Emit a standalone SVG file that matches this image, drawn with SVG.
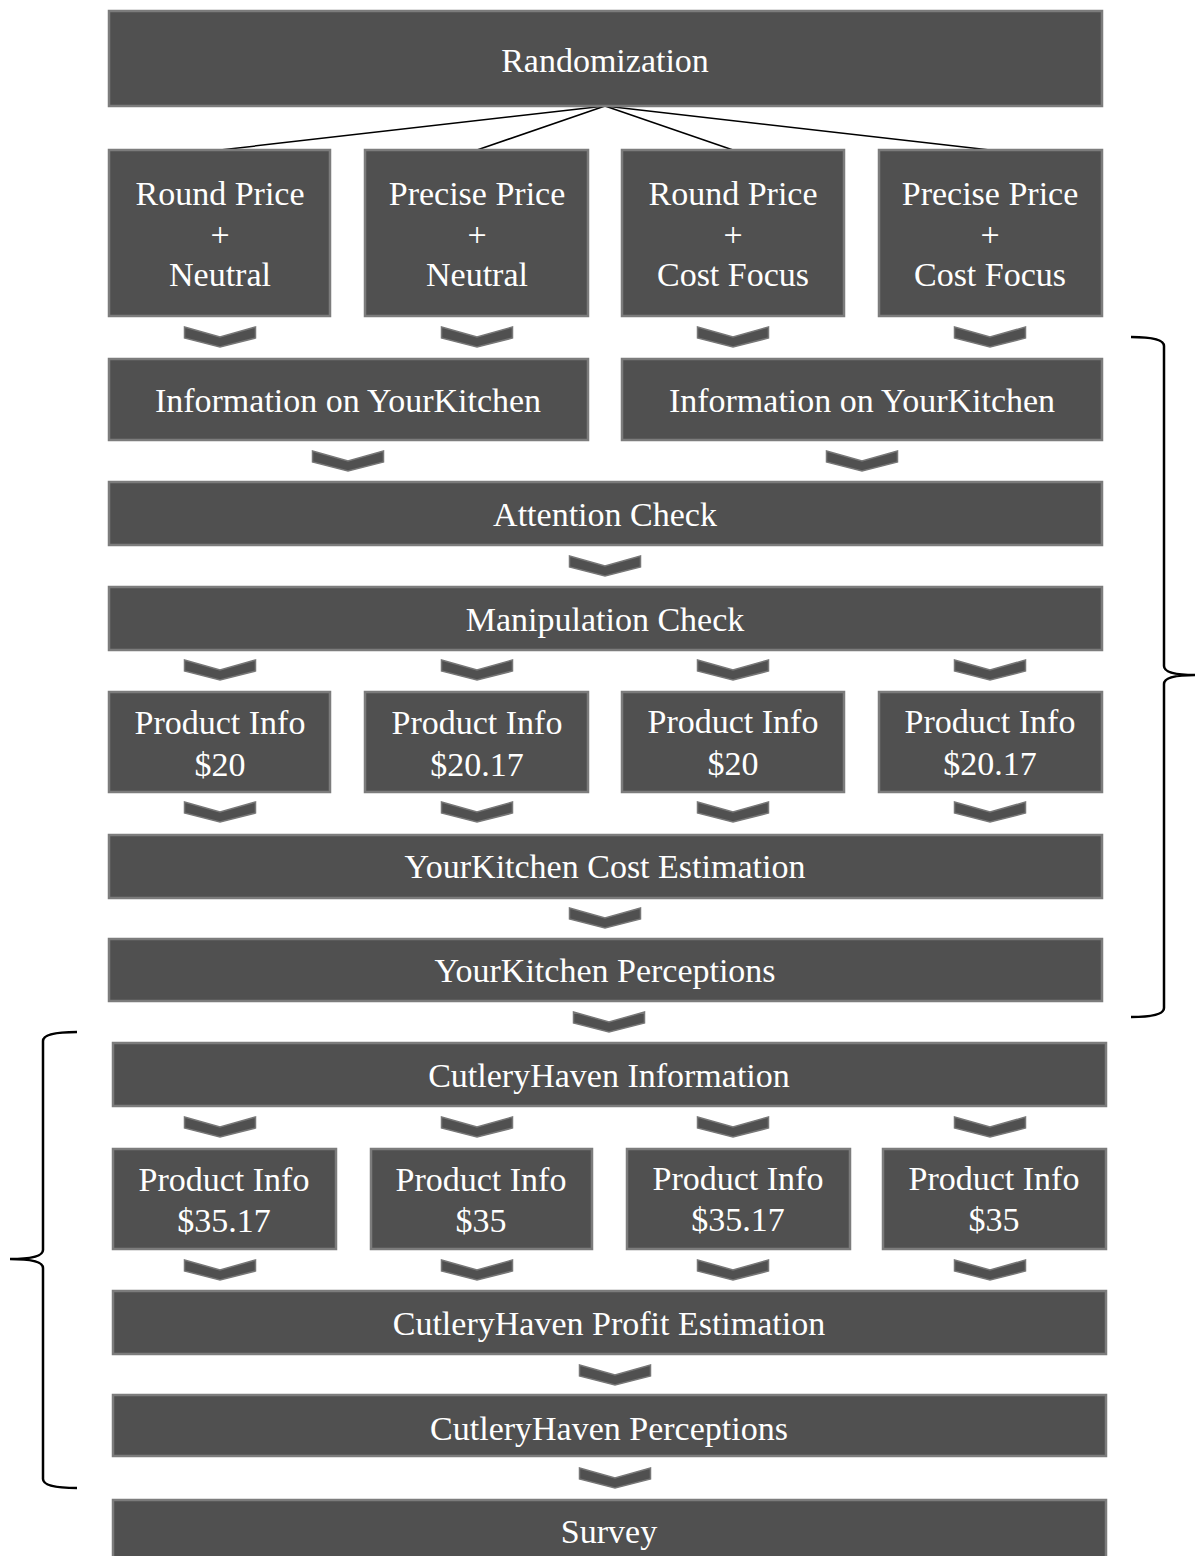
<svg xmlns="http://www.w3.org/2000/svg" width="1195" height="1556" viewBox="0 0 1195 1556">
<defs>
<style>
.box{fill:#505050;stroke:#7c7c7c;stroke-width:2.5}
.t{font-family:"Liberation Serif","Times New Roman",serif;font-size:34px;fill:#ffffff;text-anchor:middle}
.chev{fill:#505050;stroke:#777777;stroke-width:1.5;stroke-linejoin:miter}
.line{stroke:#000;stroke-width:1.5;fill:none}
.brace{stroke:#000;stroke-width:2.5;fill:none}
</style>
<path id="chev" class="chev" d="M-35.5,0 L0,10 L35.5,0 L35.5,11 L0,20 L-35.5,11 Z"/>
</defs>

<g id="connectors">
<line class="line" x1="605" y1="106" x2="220" y2="150"/>
<line class="line" x1="605" y1="106" x2="477" y2="150"/>
<line class="line" x1="605" y1="106" x2="733" y2="150"/>
<line class="line" x1="605" y1="106" x2="990" y2="150"/>
<use href="#chev" x="220" y="327"/>
<use href="#chev" x="477" y="327"/>
<use href="#chev" x="733" y="327"/>
<use href="#chev" x="990" y="327"/>
<use href="#chev" x="348" y="451"/>
<use href="#chev" x="862" y="451"/>
<use href="#chev" x="605" y="556"/>
<use href="#chev" x="220" y="660"/>
<use href="#chev" x="477" y="660"/>
<use href="#chev" x="733" y="660"/>
<use href="#chev" x="990" y="660"/>
<use href="#chev" x="220" y="802"/>
<use href="#chev" x="477" y="802"/>
<use href="#chev" x="733" y="802"/>
<use href="#chev" x="990" y="802"/>
<use href="#chev" x="605" y="908"/>
<use href="#chev" x="609" y="1012"/>
<use href="#chev" x="220" y="1117"/>
<use href="#chev" x="477" y="1117"/>
<use href="#chev" x="733" y="1117"/>
<use href="#chev" x="990" y="1117"/>
<use href="#chev" x="220" y="1260"/>
<use href="#chev" x="477" y="1260"/>
<use href="#chev" x="733" y="1260"/>
<use href="#chev" x="990" y="1260"/>
<use href="#chev" x="615" y="1365"/>
<use href="#chev" x="615" y="1468"/>
</g>

<g id="braces">
<path class="brace" d="M1131,337 Q1164,337 1164,346 L1164,666 Q1164,675 1195,675 Q1164,675 1164,684 L1164,1008 Q1164,1017 1131,1017"/>
<path class="brace" d="M77,1032 Q43,1032 43,1041 L43,1250 Q43,1259 10,1259 Q43,1259 43,1268 L43,1479 Q43,1488 77,1488"/>
</g>

<g id="randomization"><rect class="box" x="109" y="11" width="993" height="95"/><text class="t" x="605" y="72">Randomization</text></g>

<g id="cond1"><rect class="box" x="109" y="150" width="221" height="166"/><text class="t" x="220" y="205">Round Price</text><text class="t" x="220" y="246">+</text><text class="t" x="220" y="286">Neutral</text></g>
<g id="cond2"><rect class="box" x="365" y="150" width="223" height="166"/><text class="t" x="477" y="205">Precise Price</text><text class="t" x="477" y="246">+</text><text class="t" x="477" y="286">Neutral</text></g>
<g id="cond3"><rect class="box" x="622" y="150" width="222" height="166"/><text class="t" x="733" y="205">Round Price</text><text class="t" x="733" y="246">+</text><text class="t" x="733" y="286">Cost Focus</text></g>
<g id="cond4"><rect class="box" x="879" y="150" width="223" height="166"/><text class="t" x="990" y="205">Precise Price</text><text class="t" x="990" y="246">+</text><text class="t" x="990" y="286">Cost Focus</text></g>

<g id="info1"><rect class="box" x="109" y="359" width="479" height="81"/><text class="t" x="348" y="412">Information on YourKitchen</text></g>
<g id="info2"><rect class="box" x="622" y="359" width="480" height="81"/><text class="t" x="862" y="412">Information on YourKitchen</text></g>

<g id="attention"><rect class="box" x="109" y="482" width="993" height="63"/><text class="t" x="605" y="526">Attention Check</text></g>
<g id="manipulation"><rect class="box" x="109" y="587" width="993" height="63"/><text class="t" x="605" y="631">Manipulation Check</text></g>

<g id="prod1"><rect class="box" x="109" y="692" width="221" height="100"/><text class="t" x="220" y="734">Product Info</text><text class="t" x="220" y="776">$20</text></g>
<g id="prod2"><rect class="box" x="365" y="692" width="223" height="100"/><text class="t" x="477" y="734">Product Info</text><text class="t" x="477" y="776">$20.17</text></g>
<g id="prod3"><rect class="box" x="622" y="692" width="222" height="100"/><text class="t" x="733" y="733">Product Info</text><text class="t" x="733" y="775">$20</text></g>
<g id="prod4"><rect class="box" x="879" y="692" width="223" height="100"/><text class="t" x="990" y="733">Product Info</text><text class="t" x="990" y="775">$20.17</text></g>

<g id="cost"><rect class="box" x="109" y="835" width="993" height="63"/><text class="t" x="605" y="878">YourKitchen Cost Estimation</text></g>
<g id="ykperc"><rect class="box" x="109" y="939" width="993" height="62"/><text class="t" x="605" y="982">YourKitchen Perceptions</text></g>

<g id="chinfo"><rect class="box" x="113" y="1043" width="993" height="63"/><text class="t" x="609" y="1087">CutleryHaven Information</text></g>

<g id="prod5"><rect class="box" x="113" y="1149" width="223" height="100"/><text class="t" x="224" y="1191">Product Info</text><text class="t" x="224" y="1232">$35.17</text></g>
<g id="prod6"><rect class="box" x="371" y="1149" width="221" height="100"/><text class="t" x="481" y="1191">Product Info</text><text class="t" x="481" y="1232">$35</text></g>
<g id="prod7"><rect class="box" x="627" y="1149" width="223" height="100"/><text class="t" x="738" y="1190">Product Info</text><text class="t" x="738" y="1231">$35.17</text></g>
<g id="prod8"><rect class="box" x="883" y="1149" width="223" height="100"/><text class="t" x="994" y="1190">Product Info</text><text class="t" x="994" y="1231">$35</text></g>

<g id="profit"><rect class="box" x="113" y="1291" width="993" height="63"/><text class="t" x="609" y="1335">CutleryHaven Profit Estimation</text></g>
<g id="chperc"><rect class="box" x="113" y="1395" width="993" height="61"/><text class="t" x="609" y="1440">CutleryHaven Perceptions</text></g>
<g id="survey"><rect class="box" x="113" y="1500" width="993" height="70"/><text class="t" x="609" y="1543">Survey</text></g>
</svg>
